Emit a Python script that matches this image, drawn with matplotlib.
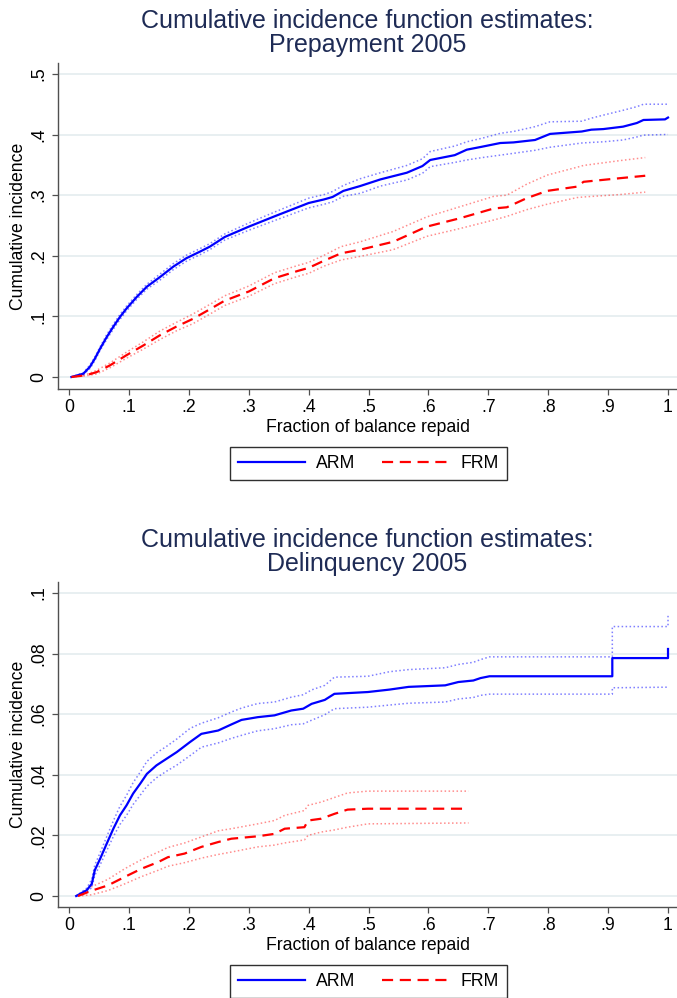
import matplotlib
matplotlib.use('Agg')
import matplotlib.pyplot as plt
from matplotlib.ticker import FuncFormatter

plt.rcParams['font.family'] = ['Liberation Sans', 'DejaVu Sans']

# ---- Prepayment 2005 ----
pp_arm_x = [0.004, 0.024, 0.035, 0.043, 0.052, 0.063, 0.074, 0.085, 0.096, 0.113,
            0.130, 0.152, 0.174, 0.196, 0.219, 0.235, 0.260, 0.300, 0.343, 0.400,
            0.426, 0.440, 0.458, 0.486, 0.520, 0.564, 0.590, 0.603, 0.644, 0.664,
            0.690, 0.720, 0.742, 0.778, 0.803, 0.856, 0.872, 0.892, 0.925, 0.948,
            0.959, 0.995, 1.000]
pp_arm = [0.000, 0.0055, 0.017, 0.030, 0.047, 0.066, 0.083, 0.099, 0.113, 0.132,
          0.149, 0.165, 0.182, 0.196, 0.207, 0.215, 0.231, 0.248, 0.265, 0.287,
          0.293, 0.297, 0.307, 0.315, 0.326, 0.337, 0.348, 0.358, 0.366, 0.375,
          0.380, 0.386, 0.387, 0.391, 0.401, 0.405, 0.408, 0.409, 0.413, 0.419,
          0.424, 0.425, 0.428]
pp_arm_lo = [0.000, 0.004, 0.014, 0.027, 0.044, 0.062, 0.079, 0.095, 0.109, 0.128,
             0.145, 0.160, 0.177, 0.191, 0.202, 0.210, 0.226, 0.242, 0.258, 0.279,
             0.285, 0.289, 0.298, 0.303, 0.315, 0.325, 0.336, 0.347, 0.354, 0.358,
             0.362, 0.366, 0.369, 0.374, 0.379, 0.386, 0.387, 0.388, 0.391, 0.396,
             0.399, 0.400, 0.400]
pp_arm_hi = [0.000, 0.007, 0.020, 0.033, 0.050, 0.070, 0.087, 0.103, 0.117, 0.136,
             0.153, 0.170, 0.187, 0.201, 0.212, 0.220, 0.236, 0.254, 0.272, 0.295,
             0.301, 0.306, 0.316, 0.327, 0.337, 0.349, 0.360, 0.372, 0.381, 0.388,
             0.394, 0.402, 0.405, 0.413, 0.421, 0.422, 0.427, 0.432, 0.440, 0.446,
             0.450, 0.450, 0.450]

pp_frm_x = [0.004, 0.029, 0.046, 0.068, 0.096, 0.124, 0.152, 0.179, 0.207, 0.232,
            0.260, 0.300, 0.343, 0.382, 0.400, 0.426, 0.454, 0.486, 0.541, 0.597,
            0.653, 0.709, 0.731, 0.764, 0.798, 0.848, 0.859, 0.920, 0.962]
pp_frm = [0.000, 0.003, 0.008, 0.019, 0.036, 0.052, 0.069, 0.083, 0.096, 0.110,
          0.126, 0.141, 0.163, 0.175, 0.180, 0.192, 0.204, 0.210, 0.223, 0.248,
          0.262, 0.278, 0.280, 0.295, 0.307, 0.314, 0.322, 0.328, 0.332]
pp_frm_lo = [0.000, 0.002, 0.005, 0.015, 0.031, 0.046, 0.062, 0.076, 0.088, 0.102,
             0.118, 0.133, 0.154, 0.166, 0.171, 0.183, 0.193, 0.199, 0.210, 0.232,
             0.245, 0.259, 0.265, 0.276, 0.285, 0.296, 0.297, 0.301, 0.305]
pp_frm_hi = [0.000, 0.004, 0.011, 0.023, 0.041, 0.058, 0.076, 0.090, 0.104, 0.118,
             0.134, 0.150, 0.172, 0.184, 0.189, 0.201, 0.215, 0.223, 0.240, 0.264,
             0.281, 0.298, 0.300, 0.318, 0.333, 0.346, 0.349, 0.357, 0.362]

# ---- Delinquency 2005 ----
dq_arm_x = [0.012, 0.0295, 0.038, 0.043, 0.052, 0.063, 0.074, 0.085, 0.096, 0.107,
            0.119, 0.130, 0.146, 0.163, 0.180, 0.202, 0.221, 0.249, 0.271, 0.288,
            0.315, 0.343, 0.371, 0.391, 0.405, 0.427, 0.443, 0.499, 0.535, 0.567,
            0.628, 0.650, 0.675, 0.687, 0.702, 0.907, 0.907, 1.000, 1.000]
dq_arm = [0.0000, 0.0019, 0.0040, 0.0085, 0.0123, 0.0173, 0.0222, 0.0266, 0.0299, 0.0338,
          0.0371, 0.0403, 0.0431, 0.0453, 0.0475, 0.0508, 0.0535, 0.0546, 0.0566, 0.0581,
          0.0590, 0.0596, 0.0612, 0.0618, 0.0634, 0.0647, 0.0667, 0.0673, 0.0681, 0.0690,
          0.0695, 0.0706, 0.0711, 0.0719, 0.0725, 0.0725, 0.0785, 0.0785, 0.0815]
dq_arm_lo = [0.0000, 0.0012, 0.0028, 0.0068, 0.0103, 0.0150, 0.0196, 0.0236, 0.0266, 0.0302,
             0.0333, 0.0362, 0.0390, 0.0412, 0.0432, 0.0463, 0.0491, 0.0505, 0.0520, 0.0530,
             0.0545, 0.0552, 0.0565, 0.0568, 0.0580, 0.0598, 0.0618, 0.0623, 0.0630, 0.0636,
             0.0640, 0.0650, 0.0655, 0.0662, 0.0666, 0.0666, 0.0687, 0.0689, 0.0689]
dq_arm_hi = [0.0000, 0.0026, 0.0055, 0.0102, 0.0143, 0.0196, 0.0248, 0.0296, 0.0332, 0.0374,
             0.0409, 0.0444, 0.0472, 0.0494, 0.0518, 0.0553, 0.0570, 0.0588, 0.0607, 0.0620,
             0.0635, 0.0640, 0.0656, 0.0664, 0.0680, 0.0695, 0.0722, 0.0725, 0.0740, 0.0747,
             0.0753, 0.0764, 0.0771, 0.0780, 0.0789, 0.0789, 0.0889, 0.0889, 0.0931]

dq_frm_x = [0.015, 0.037, 0.065, 0.093, 0.121, 0.149, 0.165, 0.193, 0.221, 0.249,
            0.271, 0.315, 0.343, 0.360, 0.393, 0.399, 0.421, 0.443, 0.465, 0.499, 0.667]
dq_frm = [0.0000, 0.0017, 0.0035, 0.0063, 0.0090, 0.0112, 0.0128, 0.0140, 0.0162, 0.0178,
          0.0189, 0.0197, 0.0205, 0.0222, 0.0227, 0.0249, 0.0255, 0.0271, 0.0285, 0.0288, 0.0288]
dq_frm_lo = [0.0000, 0.0004, 0.0018, 0.0040, 0.0064, 0.0085, 0.0098, 0.0110, 0.0125, 0.0137,
             0.0145, 0.0162, 0.0168, 0.0175, 0.0185, 0.0200, 0.0211, 0.0218, 0.0227, 0.0238, 0.0241]
dq_frm_hi = [0.0000, 0.0030, 0.0055, 0.0090, 0.0120, 0.0145, 0.0160, 0.0175, 0.0195, 0.0215,
             0.0222, 0.0238, 0.0249, 0.0266, 0.0282, 0.0299, 0.0310, 0.0325, 0.0340, 0.0346, 0.0346]

x_ticks = [0, .1, .2, .3, .4, .5, .6, .7, .8, .9, 1]
pp_yticks = [0, .1, .2, .3, .4, .5]
dq_yticks = [0, .02, .04, .06, .08, .1]

W, H = 677, 998
TITLE_COL = '#1e2b55'
AX_COL = '#505050'
GRID_COL = '#e8eff1'
FS = 12.7


def stata_fmt(v, pos):
    if abs(v) < 1e-9:
        return '0'
    if abs(v - 1) < 1e-9:
        return '1'
    s = ('%.2f' % v).rstrip('0')
    return s.lstrip('0')


def panel(fig, top, bottom, ylim, yticks, arm, frm, title, leg_y):
    ax = fig.add_axes([58 / W, 1 - bottom / H, 1 - 58 / W, (bottom - top) / H])
    xs, m, lo, hi = arm
    ax.plot(xs, lo, color='blue', alpha=0.5, lw=1.1, ls=(0, (1, 1.6)))
    ax.plot(xs, hi, color='blue', alpha=0.5, lw=1.1, ls=(0, (1, 1.6)))
    xs, m2, lo2, hi2 = frm
    ax.plot(xs, lo2, color='red', alpha=0.45, lw=1.1, ls=(0, (1, 1.6)))
    ax.plot(xs, hi2, color='red', alpha=0.45, lw=1.1, ls=(0, (1, 1.6)))
    l1, = ax.plot(arm[0], m, color='blue', lw=1.6, label='ARM')
    l2, = ax.plot(frm[0], m2, color='red', lw=1.6, ls=(0, (5, 3)), label='FRM')

    ax.set_xlim(-0.0184, 1.015)
    ax.set_ylim(*ylim)
    ax.set_xticks(x_ticks)
    ax.set_yticks(yticks)
    ax.xaxis.set_major_formatter(FuncFormatter(stata_fmt))
    ax.yaxis.set_major_formatter(FuncFormatter(stata_fmt))
    ax.grid(axis='y', color=GRID_COL, lw=1.4)
    ax.set_axisbelow(True)
    for s in ['top', 'right']:
        ax.spines[s].set_visible(False)
    for s in ['left', 'bottom']:
        ax.spines[s].set_color(AX_COL)
        ax.spines[s].set_linewidth(1.0)
    ax.tick_params(colors=AX_COL, labelcolor='black', length=4.5, width=0.9,
                   labelsize=FS)
    ax.tick_params(axis='x', pad=3)
    ax.tick_params(axis='y', labelrotation=90, pad=3)
    for t in ax.get_yticklabels():
        t.set_va('center')
    ax.set_xlabel('Fraction of balance repaid', fontsize=FS, labelpad=1.5)
    ax.set_ylabel('Cumulative incidence', fontsize=FS)
    ax.yaxis.set_label_coords(-0.05, 0.5)
    ax.set_title(title, fontsize=18, color=TITLE_COL, pad=8, linespacing=1.0)

    fig.legend(handles=[l1, l2], loc='center', bbox_to_anchor=(368.5 / W, 1 - leg_y / H),
               ncol=2, fontsize=FS, frameon=True, fancybox=False, edgecolor='#303030',
               framealpha=1, handlelength=3.8, handletextpad=0.65, columnspacing=1.5,
               borderpad=0.45)
    return ax


fig = plt.figure(figsize=(W / 100, H / 100), dpi=100)
panel(fig, 63, 389, (-0.0198, 0.518), pp_yticks,
      (pp_arm_x, pp_arm, pp_arm_lo, pp_arm_hi),
      (pp_frm_x, pp_frm, pp_frm_lo, pp_frm_hi),
      'Cumulative incidence function estimates:\nPrepayment 2005', 463.5)
panel(fig, 582, 907, (-0.00363, 0.1036), dq_yticks,
      (dq_arm_x, dq_arm, dq_arm_lo, dq_arm_hi),
      (dq_frm_x, dq_frm, dq_frm_lo, dq_frm_hi),
      'Cumulative incidence function estimates:\nDelinquency 2005', 981.5)

fig.savefig('out.png', dpi=100)
